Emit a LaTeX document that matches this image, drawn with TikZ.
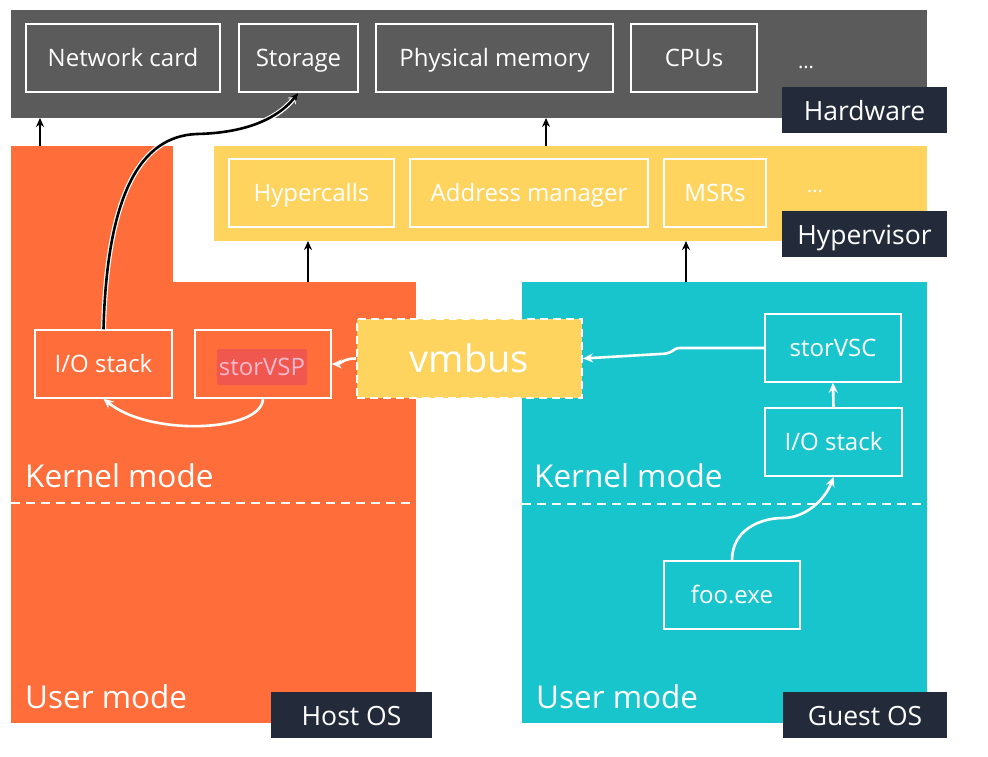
\documentclass[tikz,border=0pt]{standalone}
\usepackage{fontspec}
\setmainfont{Open Sans}
\usetikzlibrary{arrows.meta,calc}
\definecolor{hwgray}{HTML}{5B5B5B}
\definecolor{hvyel}{HTML}{FFD45E}
\definecolor{hostor}{HTML}{FF6D3B}
\definecolor{guestcy}{HTML}{19C5CC}
\definecolor{lblnavy}{HTML}{232B3A}
\definecolor{vspred}{HTML}{F0574F}
\definecolor{vsptxt}{HTML}{F9B9CF}
\tikzset{
  region/.style={inner sep=0pt, outer sep=0pt, anchor=north west},
  ibox/.style={draw=white, line width=1.5pt, text=white, font=\fontsize{24}{28}\selectfont, inner sep=0pt, minimum height=68pt, text height=23pt, text depth=6pt},
  lbl/.style={fill=lblnavy, text=white, font=\fontsize{26.5}{30}\selectfont, inner sep=0pt, minimum height=46pt, text height=27pt, text depth=6pt},
  modetxt/.style={text=white, font=\fontsize{31.5}{36}\selectfont, anchor=base west, inner sep=0pt},
  dots/.style={text=white, font=\fontsize{20}{24}\selectfont, inner sep=0pt},
  blk/.style={-{Stealth[length=9pt,width=8pt]}, line width=2.4pt, black},
  wht/.style={-{Stealth[length=10pt,width=9pt]}, line width=2.6pt, white},
  dashline/.style={white, line width=2pt, dash pattern=on 9pt off 6pt},
}
\begin{document}
\begin{tikzpicture}[x=1pt,y=-1pt]
\useasboundingbox (0,0) rectangle (988,757);
% regions
\node[region, fill=hwgray, minimum width=916pt, minimum height=108pt] (hw) at (11,10) {};
\node[region, fill=hvyel, minimum width=713pt, minimum height=95pt] (hv) at (214,146) {};
\node[region, fill=hostor, minimum width=162pt, minimum height=137pt] (hosttab) at (11,146) {};
\node[region, fill=hostor, minimum width=405pt, minimum height=441pt] (host) at (11,282) {};
\node[region, fill=guestcy, minimum width=405pt, minimum height=441pt] (guest) at (522,282) {};
% hardware items
\node[ibox, minimum width=194pt] (net) at (123,58) {Network card};
\node[ibox, minimum width=119pt] (stor) at (298.5,58) {Storage};
\node[ibox, minimum width=237pt] (pmem) at (494.5,58) {Physical memory};
\node[ibox, minimum width=126pt] (cpus) at (694,58) {CPUs};
\node[dots] (hwdots) at (806,67) {...};
% hypervisor items
\node[ibox, minimum width=165pt] (hcall) at (311.5,193) {Hypercalls};
\node[ibox, minimum width=238pt] (addr) at (529,193) {Address manager};
\node[ibox, minimum width=102pt] (msr) at (715,193) {MSRs};
\node[dots] (hvdots) at (815,191) {...};
% labels
\node[lbl, minimum width=165pt] (hwlbl) at (864.5,110) {Hardware};
\node[lbl, minimum width=165pt] (hvlbl) at (864.5,234) {Hypervisor};
% host items
\node[ibox, minimum width=137pt] (hio) at (103.5,364) {I/O stack};
\node[ibox, minimum width=136pt] (vsp) at (263,364) {};
\node[fill=vspred, rounded corners=2pt, minimum width=90pt, minimum height=36pt, inner sep=0pt, text=vsptxt, font=\fontsize{24}{28}\selectfont, text height=22pt, text depth=6pt] (vsptext) at (262,367) {storVSP};
% vmbus
\node[draw=white, line width=2pt, dash pattern=on 8pt off 5pt, fill=hvyel, text=white, font=\fontsize{38}{44}\selectfont, minimum width=225pt, minimum height=79pt, inner sep=0pt] (vmbus) at (469.5,358.5) {vmbus};
% guest items
\node[ibox, minimum width=136pt] (vsc) at (833,348) {storVSC};
\node[ibox, minimum width=137pt] (gio) at (833.5,442) {I/O stack};
\node[ibox, minimum width=136pt] (foo) at (732,595) {foo.exe};
% mode lines and labels
\draw[dashline] (host.west |- 0,503) -- (host.east |- 0,503);
\draw[dashline] (guest.west |- 0,504) -- (guest.east |- 0,504);
\node[modetxt] (hkm) at (25,487) {Kernel mode};
\node[modetxt] (hum) at (25,708) {User mode};
\node[modetxt] (gkm) at (534,487) {Kernel mode};
\node[modetxt] (gum) at (536,708) {User mode};
\node[lbl, minimum width=161pt] (hostlbl) at (351.5,715) {Host OS};
\node[lbl, minimum width=164pt] (guestlbl) at (865,715) {Guest OS};
% black arrows
\draw[blk] ([xshift=29pt]hosttab.north west) -- ([xshift=29pt]hosttab.north west |- hw.south);
\draw[blk] ([xshift=297pt]host.north west) -- ([xshift=297pt]host.north west |- hv.south);
\draw[blk] ([xshift=164pt]guest.north west) -- ([xshift=164pt]guest.north west |- hv.south);
\draw[blk] ([xshift=332pt]hv.north west) -- ([xshift=332pt]hv.north west |- hw.south);
% io stack to storage
\draw[white, line width=5pt, -{Stealth[length=11pt,width=10pt]}] (hio.north) .. controls (107,195) and (140,136) .. (197,134) .. controls (240,133) and (275,122) .. (stor.south);
\draw[black, line width=2.6pt, -{Stealth[length=9pt,width=8pt]}] (hio.north) .. controls (107,195) and (140,136) .. (197,134) .. controls (240,133) and (275,122) .. (stor.south);
% white arrows
\draw[wht] (vsp.south) .. controls (262,432) and (150,437) .. (hio.south);
\draw[wht] (vmbus.west) .. controls (345,358) and (340,364) .. (vsp.east);
\draw[wht] (vsc.west) -- (680,348) .. controls (672,348) and (674,354) .. (660,354) -- (vmbus.east);
\draw[wht] (gio.north) -- (vsc.south);
\draw[wht] (foo.north) .. controls (732,530) and (760,518) .. (783,518) .. controls (805,518) and (825,500) .. (gio.south);
\end{tikzpicture}
\end{document}
